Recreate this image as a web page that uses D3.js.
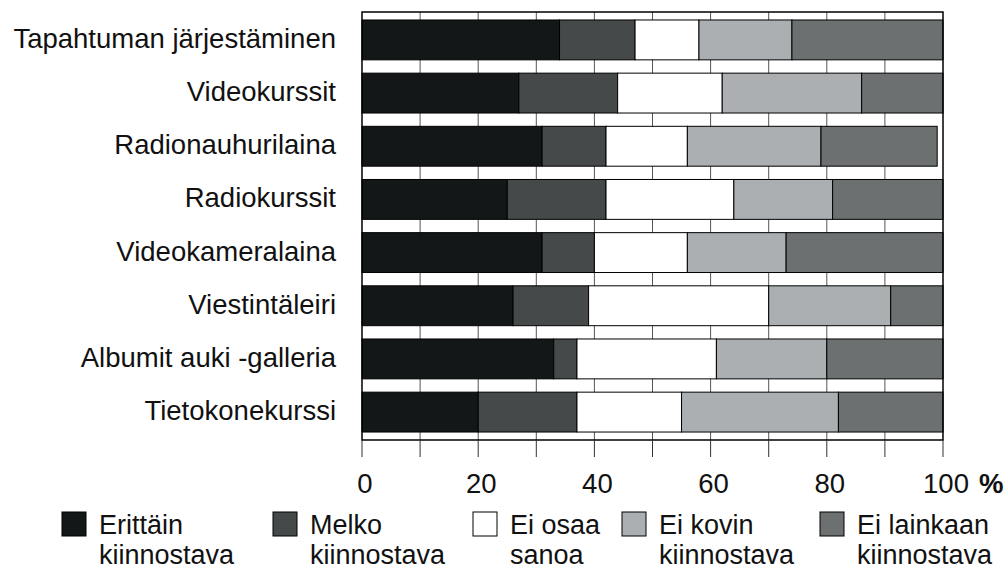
<!DOCTYPE html>
<html>
<head>
<meta charset="utf-8">
<script src="https://cdn.jsdelivr.net/npm/d3@7"></script>
<style>
  body { margin: 0; background: #fff; }
  text { font-family: "Liberation Sans", Arial, sans-serif; fill: #111; }
</style>
</head>
<body>
<div id="chart"></div>
<script>
// Data
const categories = [
    "Tapahtuman järjestäminen",
    "Videokurssit",
    "Radionauhurilaina",
    "Radiokurssit",
    "Videokameralaina",
    "Viestintäleiri",
    "Albumit auki -galleria",
    "Tietokonekurssi"
];
const seriesNames = [
    ["Erittäin", "kiinnostava"],
    ["Melko", "kiinnostava"],
    ["Ei osaa", "sanoa"],
    ["Ei kovin", "kiinnostava"],
    ["Ei lainkaan", "kiinnostava"]
];
const erittain   = [34, 27, 31, 25, 31, 26, 33, 20];
const melko      = [13, 17, 11, 17,  9, 13,  4, 17];
const eiOsaa     = [11, 18, 14, 22, 16, 31, 24, 18];
const eiKovin    = [16, 24, 23, 17, 17, 21, 19, 27];
const eiLainkaan = [26, 14, 20, 19, 27,  9, 20, 18];
const tickValues = [0, 20, 40, 60, 80, 100];

const colors = ["#131718", "#45494a", "#ffffff", "#abafb2", "#6c7070"];

const W = 1005, H = 570;
const plot = { left: 362, right: 943, top: 12, bottom: 440 };
const fontSize = "27.5px";
const legendFont = "27px";

const svg = d3.select("#chart")
    .append("svg")
    .attr("width", W)
    .attr("height", H);

const rows = categories.map((c, i) => ({
    cat: c,
    s0: erittain[i], s1: melko[i], s2: eiOsaa[i], s3: eiKovin[i], s4: eiLainkaan[i]
}));
const keys = ["s0", "s1", "s2", "s3", "s4"];
const stacked = d3.stack().keys(keys)(rows);

// Scales
const x = d3.scaleLinear().domain([0, 100]).range([plot.left, plot.right]);
const y = d3.scaleBand()
    .domain(categories)
    .range([plot.top, plot.bottom])
    .paddingInner(0.25)
    .paddingOuter(0.15);

// Gridlines
svg.append("g")
    .selectAll("line")
    .data(d3.range(10, 100, 10))
    .enter()
    .append("line")
    .attr("x1", d => x(d)).attr("x2", d => x(d))
    .attr("y1", plot.top).attr("y2", plot.bottom)
    .attr("stroke", "#555")
    .attr("stroke-width", 1);

// Bars
svg.append("g")
    .selectAll("g")
    .data(stacked)
    .enter()
    .append("g")
    .attr("fill", (d, i) => colors[i])
    .selectAll("rect")
    .data(d => d)
    .enter()
    .append("rect")
    .attr("x", d => x(d[0]))
    .attr("y", d => y(d.data.cat))
    .attr("width", d => x(d[1]) - x(d[0]))
    .attr("height", y.bandwidth())
    .attr("stroke", "#000")
    .attr("stroke-width", 1);

// Frame
svg.append("rect")
    .attr("x", plot.left).attr("y", plot.top)
    .attr("width", plot.right - plot.left)
    .attr("height", plot.bottom - plot.top)
    .attr("fill", "none")
    .attr("stroke", "#000")
    .attr("stroke-width", 1.5);

// X axis ticks below the frame
svg.append("g")
    .selectAll("line")
    .data(d3.range(0, 101, 10))
    .enter()
    .append("line")
    .attr("x1", d => x(d)).attr("x2", d => x(d))
    .attr("y1", plot.bottom).attr("y2", plot.bottom + 17)
    .attr("stroke", "#333")
    .attr("stroke-width", 1);

svg.append("g")
    .selectAll("text")
    .data(tickValues)
    .enter()
    .append("text")
    .attr("x", d => x(d) + 3)
    .attr("y", 493)
    .attr("text-anchor", "middle")
    .style("font-size", fontSize)
    .text(d => d);

svg.append("text")
    .attr("x", x(100) + 36)
    .attr("y", 493)
    .style("font-size", fontSize)
    .style("font-weight", "bold")
    .text("%");

// Category labels
svg.append("g")
    .selectAll("text")
    .data(categories)
    .enter()
    .append("text")
    .attr("x", 336)
    .attr("y", d => y(d) + y.bandwidth() / 2 + 8)
    .attr("text-anchor", "end")
    .style("font-size", fontSize)
    .text(d => d);

// Legend
const legendX = [62, 273, 473, 622, 820];
const legend = svg.append("g")
    .selectAll("g")
    .data(seriesNames)
    .enter()
    .append("g")
    .attr("transform", (d, i) => `translate(${legendX[i]},512)`);

legend.append("rect")
    .attr("width", 24).attr("height", 24)
    .attr("fill", (d, i) => colors[i])
    .attr("stroke", "#000")
    .attr("stroke-width", 1);

legend.append("text")
    .attr("x", 37)
    .attr("y", 22)
    .style("font-size", legendFont)
    .text(d => d[0]);

legend.append("text")
    .attr("x", 37)
    .attr("y", 52)
    .style("font-size", legendFont)
    .text(d => d[1]);
</script>
</body>
</html>
